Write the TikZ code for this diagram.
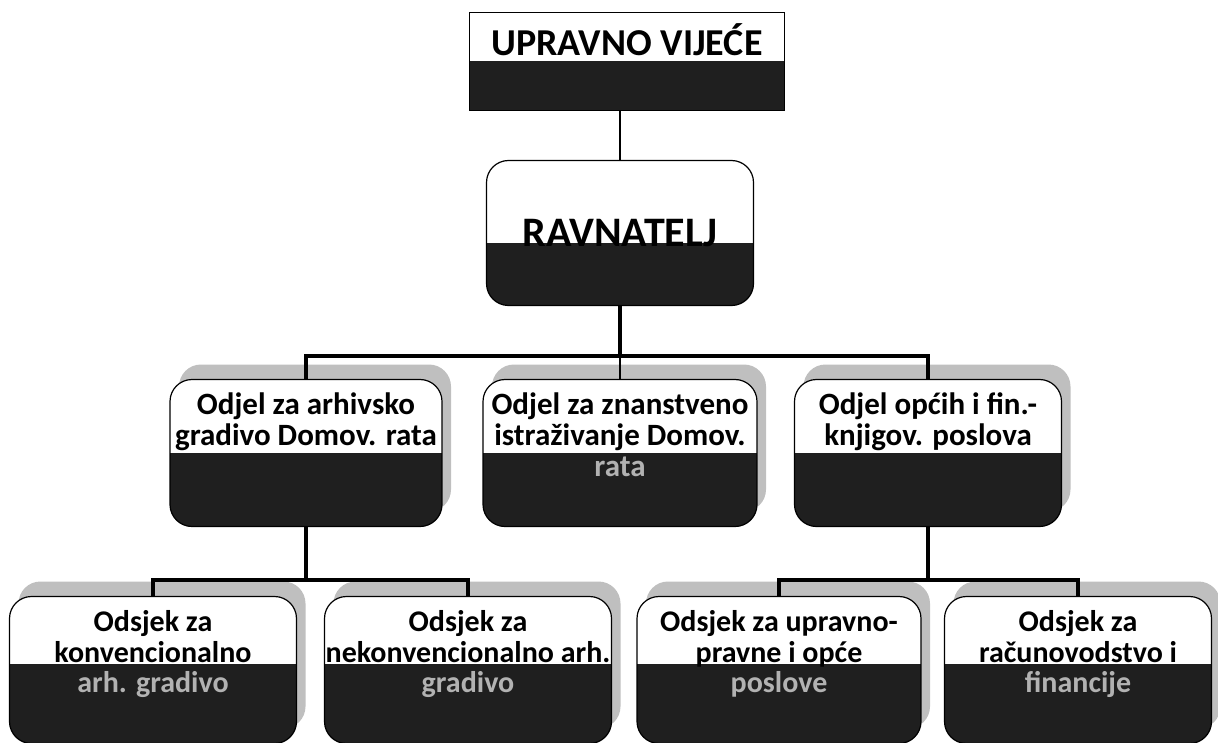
\documentclass[tikz,border=0pt]{standalone}
\usepackage{fontspec}
\setmainfont{Carlito}
\usetikzlibrary{positioning}

% lift a block of centred lines without changing the node size
\newcommand{\liftlines}[2]{\raisebox{#1}[\height][\depth]{\begin{tabular}{@{}c@{}}#2\end{tabular}}}

\begin{document}
\begin{tikzpicture}[x=1pt, y=-1pt,
  dark from/.store in=\darkfrom, dark from=0,
  box/.style={draw=black, fill=white, line width=1.2pt, rounded corners=22pt, align=center,
    font=\bfseries\fontsize{31}{31}\selectfont, inner sep=0pt,
    path picture={\fill[black!88, sharp corners] ([yshift=-\darkfrom pt]path picture bounding box.west)
      rectangle (path picture bounding box.south east);}},
  shadowed/.style={preaction={fill=gray!50, draw=none, transform canvas={shift={(9pt,15pt)}}}},
  section/.style={box, shadowed, minimum height=147, font=\bfseries\fontsize{30}{30}\selectfont},
  conn/.style={line width=3.4pt},
  thin conn/.style={line width=1.6pt}]
  \useasboundingbox (0,0) rectangle (1218,743);

  % top levels
  \node[box, rounded corners=0pt, line width=0.8pt, minimum width=315, minimum height=98,
    font=\bfseries\fontsize{38}{40}\selectfont] (council) at (627,61)
    {\raisebox{5pt}[0pt][0pt]{UPRAVNO VIJEĆE}};
  \node[box, dark from=10, minimum width=267, minimum height=145,
    font=\bfseries\fontsize{42}{44}\selectfont] (director) at (620,233) {RAVNATELJ};

  % departments
  \node[box, shadowed, minimum width=272, minimum height=147] (archive) at (306,453)
    {\liftlines{14pt}{Odjel za arhivsko\\gradivo Domov. rata\\\phantom{x}}};
  \node[box, shadowed, minimum width=274, minimum height=147] (research) at (620,453)
    {\liftlines{14pt}{Odjel za znanstveno\\istraživanje Domov.\\\textcolor{gray!60}{rata}}};
  \node[box, shadowed, minimum width=267, minimum height=147] (finance) at (928,453)
    {\liftlines{14pt}{Odjel općih i fin.-\\knjigov. poslova\\\phantom{x}}};

  % sections
  \node[section, dark from=-6, minimum width=287] (conv) at (153,670)
    {\liftlines{14pt}{Odsjek za\\konvencionalno\\\textcolor{gray!60}{arh. gradivo}}};
  \node[section, dark from=-6, minimum width=287] (unconv) at (468,670)
    {\liftlines{14pt}{Odsjek za\\nekonvencionalno arh.\\\textcolor{gray!60}{gradivo}}};
  \node[section, dark from=-6, minimum width=284] (admin) at (779,670)
    {\liftlines{14pt}{Odsjek za upravno-\\pravne i opće\\\textcolor{gray!60}{poslove}}};
  \node[section, dark from=-6, minimum width=267] (account) at (1078,670)
    {\liftlines{14pt}{Odsjek za\\računovodstvo i\\\textcolor{gray!60}{financije}}};

  % connectors
  \coordinate (bar1) at (620,356);
  \coordinate (bar2) at (306,580);
  \coordinate (bar3) at (928,580);

  \draw[thin conn] (director.north |- council.south) -- (director.north);
  \draw[conn] (director.south) -- (bar1);
  \draw[conn] (archive.north) |- (bar1) -| (finance.north);
  \draw[thin conn] (bar1) -- (research.north);
  \draw[conn] (archive.south) -- (bar2);
  \draw[conn] (conv.north) |- (bar2) -| (unconv.north);
  \draw[conn] (finance.south) -- (bar3);
  \draw[conn] (admin.north) |- (bar3) -| (account.north);
\end{tikzpicture}
\end{document}
